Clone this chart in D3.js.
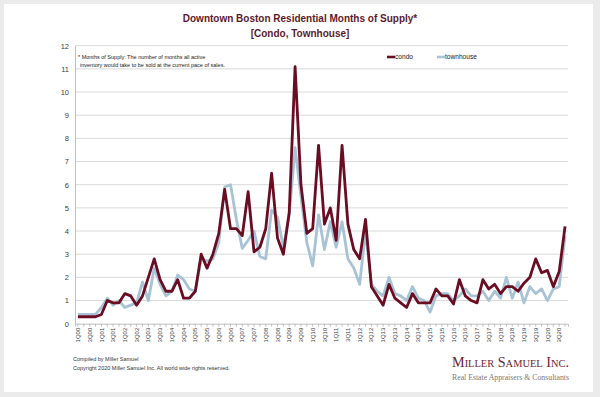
<!DOCTYPE html>
<html>
<head>
<meta charset="utf-8">
<script src="https://cdn.jsdelivr.net/npm/d3@7/dist/d3.min.js"></script>
<style>
  body { margin: 0; background: #ebebeb; }
  svg { display: block; font-family: 'Liberation Sans', Arial, sans-serif; }
</style>
</head>
<body>
<svg id="chart" width="600" height="397"></svg>
<script>
// quarters 1Q00 .. 4Q20
const years = ['00','01','02','03','04','05','06','07','08','09','10','11','12','13','14','15','16','17','18','19','20'];
const quarters = years.flatMap(y => ['1Q', '2Q', '3Q', '4Q'].map(q => q + y));

const condo = [
  0.3, 0.3, 0.3, 0.3, 0.4, 1.0, 0.9, 0.9, 1.3, 1.2, 0.8, 1.2,
  2.0, 2.8, 1.9, 1.4, 1.4, 1.9, 1.1, 1.1, 1.4, 3.0, 2.4, 3.0,
  3.9, 5.8, 4.1, 4.1, 3.8, 5.7, 3.1, 3.3, 4.1, 6.5, 3.7, 3.0,
  4.8, 11.1, 6.0, 3.9, 4.1, 7.7, 4.3, 5.0, 3.6, 7.7, 4.3, 3.2,
  2.8, 4.5, 1.6, 1.2, 0.8, 1.7, 1.1, 0.9, 0.7, 1.3, 0.9, 0.9,
  0.9, 1.5, 1.2, 1.2, 0.85, 1.9, 1.2, 1.0, 0.9, 1.9, 1.5, 1.7,
  1.3, 1.6, 1.6, 1.4, 1.75, 2.0, 2.8, 2.2, 2.3, 1.6, 2.25, 4.2
];
const townhouse = [
  0.4, 0.4, 0.4, 0.4, 0.7, 1.1, 0.8, 1.0, 0.7, 0.8, 0.9, 1.8,
  1.0, 2.4, 1.7, 1.2, 1.4, 2.1, 1.9, 1.5, 1.4, 2.8, 2.7, 2.8,
  3.5, 5.9, 6.0, 4.5, 3.25, 3.6, 4.0, 2.9, 2.8, 4.9, 4.6, 3.3,
  4.7, 7.6, 5.5, 3.5, 2.5, 4.7, 3.2, 4.4, 3.3, 4.4, 2.8, 2.4,
  1.7, 4.0, 1.7, 1.4, 1.2, 2.0, 1.3, 1.2, 1.0, 1.6, 1.1, 1.0,
  0.5, 1.2, 1.3, 1.3, 1.0, 1.2, 1.5, 1.2, 1.2, 1.4, 1.0, 1.4,
  1.1, 2.0, 1.1, 1.8, 0.9, 1.6, 1.3, 1.5, 1.0, 1.5, 1.6, 3.8
];
const yTicks = d3.range(0, 13);

const series = [
  { name: 'condo', values: condo, color: '#6a0d22' },
  { name: 'townhouse', values: townhouse, color: '#a8c3d5' },
];

const svg = d3.select('#chart');

// card
svg.append('rect').attr('x', 4).attr('y', 4).attr('width', 589).attr('height', 388).attr('fill', '#fff');

const margin = { top: 45.7, left: 75, right: 568, bottom: 323.7 };
const x = d3.scaleBand().domain(quarters).range([margin.left, margin.right]);
const y = d3.scaleLinear().domain([0, 12]).range([margin.bottom, margin.top]);
const cx = d => x(d) + x.bandwidth() / 2;

// title
const title = svg.append('text').attr('x', 300).attr('text-anchor', 'middle')
  .attr('fill', '#5c1a2c').style('font-weight', 'bold').style('font-size', '10px');
title.append('tspan').attr('x', 300).attr('y', 22).text('Downtown Boston Residential Months of Supply*');
title.append('tspan').attr('x', 300).attr('y', 37).text('[Condo, Townhouse]');

// gridlines
svg.append('g').selectAll('line').data(yTicks.filter(d => d > 0)).enter().append('line')
  .attr('x1', margin.left).attr('x2', margin.right)
  .attr('y1', d => y(d)).attr('y2', d => y(d))
  .attr('stroke', '#d9d9d9').attr('stroke-width', 1);

// y axis
const yAxis = svg.append('g').attr('transform', `translate(${margin.left},0)`)
  .call(d3.axisLeft(y).tickValues(yTicks).tickSize(0).tickPadding(6));
yAxis.select('.domain').attr('stroke', '#bfbfbf');
yAxis.selectAll('text').attr('fill', '#404040').style('font-size', '7.5px')
  .style('font-family', "'Liberation Sans', Arial, sans-serif");

// x axis
const xAxis = svg.append('g').attr('transform', `translate(0,${margin.bottom})`)
  .call(d3.axisBottom(x).tickSize(3).tickPadding(3)
    .tickFormat((d, i) => i % 2 === 0 ? d : ''));
xAxis.select('.domain').attr('stroke', '#bfbfbf');
xAxis.selectAll('.tick line').attr('stroke', '#bfbfbf');
xAxis.selectAll('text')
  .attr('transform', 'rotate(-90)')
  .attr('x', -4).attr('y', 0).attr('dy', '0.35em')
  .attr('text-anchor', 'end')
  .attr('fill', '#404040').style('font-size', '6px')
  .style('font-family', "'Liberation Sans', Arial, sans-serif");

// lines
const line = d3.line().x((d, i) => cx(quarters[i])).y(d => y(d));
series.slice().reverse().forEach(s => {
  svg.append('path').datum(s.values)
    .attr('d', line).attr('fill', 'none')
    .attr('stroke', s.color).attr('stroke-width', 2.8)
    .attr('stroke-linejoin', 'round');
});

// footnote
const note = svg.append('text').attr('fill', '#222').style('font-size', '5.5px');
note.append('tspan').attr('x', 78).attr('y', 59).text('* Months of Supply: The number of months all active');
note.append('tspan').attr('x', 80).attr('y', 67).text('inventory would take to be sold at the current pace of sales.');

// legend
const legend = svg.append('g').selectAll('g').data(series).enter().append('g')
  .attr('transform', (d, i) => `translate(${387 + i * 50},57)`);
legend.append('line').attr('x1', 0).attr('x2', 8).attr('y1', 0).attr('y2', 0)
  .attr('stroke', d => d.color).attr('stroke-width', 2.6);
legend.append('text').attr('x', 8).attr('y', 2.3).attr('fill', '#222')
  .style('font-size', '6.6px').text(d => d.name);

// footer
svg.append('text').attr('x', 73).attr('y', 361).attr('fill', '#333')
  .style('font-size', '5.5px').text('Compiled by Miller Samuel');
svg.append('text').attr('x', 73).attr('y', 370).attr('fill', '#333')
  .style('font-size', '5.5px').text('Copyright 2020 Miller Samuel Inc.  All world wide rights reserved.');

// logo
svg.append('text').attr('x', 452).attr('y', 367).attr('fill', '#6b2434')
  .style('font-family', "'Liberation Serif', 'DejaVu Serif', serif")
  .style('font-variant', 'small-caps').style('font-size', '15px')
  .attr('textLength', 117).attr('lengthAdjust', 'spacingAndGlyphs')
  .text('Miller Samuel Inc.');
svg.append('text').attr('x', 452).attr('y', 380).attr('fill', '#777')
  .style('font-family', "'Liberation Serif', 'DejaVu Serif', serif")
  .style('font-size', '7.5px')
  .attr('textLength', 117).attr('lengthAdjust', 'spacingAndGlyphs')
  .text('Real Estate Appraisers & Consultants');
</script>
</body>
</html>
